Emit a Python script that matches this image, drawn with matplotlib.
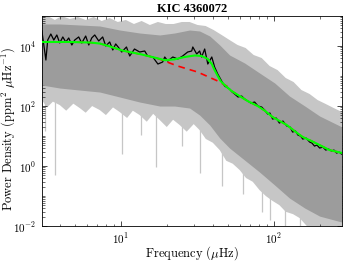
import matplotlib
matplotlib.use("Agg")
import matplotlib.pyplot as plt
from matplotlib.ticker import LogLocator, NullFormatter, FixedLocator, FixedFormatter

plt.rcParams["font.family"] = "serif"
plt.rcParams["font.serif"] = ["cmr10"]
plt.rcParams["mathtext.fontset"] = "cm"
plt.rcParams["axes.formatter.use_mathtext"] = True

# 원시 스펙트럼 (회색) 외곽 / 밀집 구간 경계
env_freq = [3.05, 3.33, 3.71, 4.11, 4.64, 5.24, 5.90, 6.66, 7.51, 8.47, 9.56, 10.8,
            12.2, 13.7, 15.5, 17.5, 19.7, 22.2, 25.1, 28.2, 31.8, 35.9, 40.5, 45.7,
            51.5, 58.1, 65.6, 74.0, 83.5, 94.2, 106, 120, 135, 152, 172, 194, 219,
            247, 280]
env_upper = [92600, 100000, 73600, 100000, 79400, 92600, 73600, 92600, 68100, 85800,
             63100, 73600, 54100, 68100, 50100, 63100, 54100, 54100, 63100, 63100,
             50100, 46400, 34100, 23300, 15800, 10800, 8580, 5010, 3980, 2150, 1580,
             858, 631, 341, 251, 158, 117, 85.8, 63.1]

low_freq = [3.05, 3.3, 3.6, 3.99, 4.4, 4.9, 5.39, 5.9, 6.5, 7.29, 8.0, 8.9, 9.85, 11.0,
            12.0, 13.3, 14.8, 16.3, 18.0, 20.0, 22.0, 24.3, 27.0, 30.0, 32.8, 36.0,
            40.0, 44.4, 49.0, 54.0, 60.0, 66.0, 73.0, 80.9, 89.0, 98.0, 109, 120, 134,
            148, 165, 180, 200, 280]
env_lower = [158, 90, 140, 108, 70, 120, 85.8, 60, 100, 73.6, 50, 90, 63.1, 40, 70,
             50.1, 30, 55, 34.1, 20, 35, 23.3, 14, 25, 15.8, 8, 6, 3.41, 1.5, 1.2,
             0.736, 0.4, 0.3, 0.158, 0.1, 0.07, 0.050, 0.03, 0.025, 0.0185, 0.01, 0.007,
             0.005, 0.005]

core_freq = [3.05, 3.99, 5.39, 7.29, 9.85, 13.3, 18.0, 22.5, 28.2, 32.8, 38.2, 44.4,
             51.5, 64.6, 80.9, 101.6, 127, 160, 200, 280]
core_upper = [54100, 54100, 50100, 46400, 34100, 27100, 23300, 27100, 34100, 31600,
              21500, 10800, 5010, 2710, 1260, 585, 215, 100, 46.4, 20.0]
core_lower = [501, 398, 341, 293, 200, 136, 100, 100, 85.8, 50.1, 23.3, 8.58, 3.98,
              1.58, 0.631, 0.233, 0.0858, 0.0398, 0.0215, 0.0136]

# 아래로 긴 스파이크
spike_freq = [3.18, 3.71, 10.15, 13.5, 16.9, 25.1, 32.8, 45.7, 62.7, 83.5, 94.2, 118, 148, 185]
spike_low = [14.7, 0.50, 2.51, 10.8, 0.93, 4.64, 0.58, 0.215, 0.117, 0.029, 0.016,
             0.005, 0.005, 0.005]
spike_high = [500, 400, 200, 136, 100, 100, 50, 8, 2, 0.6, 0.3, 0.1, 0.04, 0.02]

# 평활 스펙트럼 (검정)
smooth_freq = [3.05, 3.14, 3.24, 3.33, 3.49, 3.65, 3.82, 3.99, 4.18, 4.37, 4.57, 4.79,
               5.00, 5.31, 5.56, 5.90, 6.18, 6.46, 6.76, 7.18, 7.62, 7.98, 8.47, 8.87,
               9.27, 9.85, 10.15, 10.9, 11.45, 12.3, 13.3, 14.35, 15.0, 16.2, 17.5,
               18.8, 19.4, 20.3, 21.9, 23.6, 25.4, 27.4, 29.1, 29.6, 31.4, 32.8, 33.8,
               35.4, 37.1, 39.4, 41.1, 43.1, 45.7, 47.8, 51.5, 53.5, 55.6, 58.5, 61.8,
               64.6, 67.6, 71.0, 75.1, 79.0, 83.5, 87.3, 91.4, 94.5, 98.4, 104, 109,
               115, 122, 128, 133, 139, 144, 150, 155, 163, 172, 178, 185, 192, 200,
               210, 219, 229, 239, 248, 258, 268, 278]
smooth_power = [31600, 10800, 3410, 15800, 25100, 15800, 23300, 12600, 20000, 13600,
                18500, 10800, 15800, 20000, 12600, 21500, 10800, 18500, 23300, 14700,
                20000, 10000, 13600, 7360, 11700, 7940, 6310, 9260, 4640, 7940, 6310,
                6810, 4640, 4300, 2510, 2930, 4300, 3160, 4300, 3690, 4640, 6310, 6810,
                9260, 5410, 6810, 4300, 7940, 2510, 4300, 2000, 1170, 681, 464, 369,
                293, 251, 200, 215, 171, 147, 126, 136, 100, 92.6, 73.6, 54.1, 58.5,
                36.9, 39.8, 27.1, 31.6, 21.5, 20.0, 13.6, 14.7, 10.8, 10.0, 7.94, 8.58,
                6.31, 5.85, 4.64, 5.01, 3.98, 4.30, 3.41, 3.69, 3.16, 3.41, 2.71, 2.93,
                2.51]

# 전체 모델 (초록)
fit_freq = [3.05, 4.64, 6.27, 7.29, 8.47, 10.3, 13.3, 17.2, 19.4, 22.5, 26.2, 30.5,
            33.8, 37.1, 39.4, 41.1, 43.1, 45.0, 47.8, 53.1, 59.9, 67.6, 78.6, 87.3,
            98.4, 122, 137, 155, 177, 200, 232, 282]
fit_power = [13600, 13600, 13100, 12100, 9700, 7000, 5410, 3950, 3350, 3600, 4300,
             4840, 4640, 3690, 2510, 1580, 1000, 681, 501, 316, 215, 147, 100, 70.8,
             43.0, 23.3, 14.7, 9.26, 6.81, 5.01, 3.41, 2.71]

# 배경 모델 (빨강 점선)
bg_freq = [3.05, 4.64, 6.27, 7.29, 8.47, 10.3, 13.3, 17.2, 19.4, 20.9, 23.6, 31.8,
           43.1, 49.3, 53.1, 59.9, 67.6, 78.6, 87.3, 98.4, 122, 137, 155, 177, 200,
           232, 282]
bg_power = [13600, 13600, 13100, 12100, 9700, 7000, 5410, 3950, 3160, 2710, 2150, 1360,
            681, 464, 316, 215, 147, 100, 70.8, 43.0, 23.3, 14.7, 9.26, 6.81, 5.01,
            3.41, 2.71]

fig = plt.figure(figsize=(3.49, 2.62), dpi=100)
ax = fig.add_axes([0.120, 0.137, 0.860, 0.802])

light = "#c6c6c6"
dense = "#9c9c9c"

# 외곽 밴드: 위 경계 → 아래 경계(역순)로 닫은 다각형
ax.fill(env_freq + low_freq[::-1], env_upper + env_lower[::-1],
        color=light, lw=0, zorder=1)
ax.vlines(spike_freq, spike_low, spike_high, color=light, lw=0.9, zorder=1)
ax.fill_between(core_freq, core_lower, core_upper, color=dense, lw=0, zorder=2)

ax.plot(smooth_freq, smooth_power, color="black", lw=0.9, zorder=3)
ax.plot(bg_freq, bg_power, color="red", lw=1.2, ls=(0, (4, 3)), zorder=4)
ax.plot(fit_freq, fit_power, color="#00ff00", lw=1.5, zorder=5)

ax.set_xscale("log")
ax.set_yscale("log")
ax.set_xlim(3.05, 280)
ax.set_ylim(1e-2, 1e5)

ax.yaxis.set_major_locator(FixedLocator([1e-2, 1e0, 1e2, 1e4]))
ax.yaxis.set_major_formatter(FixedFormatter([r"$10^{-2}$", r"$10^{0}$", r"$10^{2}$", r"$10^{4}$"]))
ax.yaxis.set_minor_locator(LogLocator(base=10, subs=[1, 2, 3, 4, 5, 6, 7, 8, 9], numticks=20))
ax.yaxis.set_minor_formatter(NullFormatter())
ax.xaxis.set_major_locator(FixedLocator([10, 100]))
ax.xaxis.set_major_formatter(FixedFormatter([r"$10^{1}$", r"$10^{2}$"]))
ax.xaxis.set_minor_locator(LogLocator(base=10, subs=[2, 3, 4, 5, 6, 7, 8, 9], numticks=20))
ax.xaxis.set_minor_formatter(NullFormatter())

ax.tick_params(which="both", direction="in", top=True, right=True, labelsize=8, pad=4)
ax.tick_params(which="major", length=3.5, width=0.5)
ax.tick_params(which="minor", length=1.8, width=0.4)
for s in ax.spines.values():
    s.set_linewidth(0.6)

ax.set_xlabel(r"Frequency ($\mu$Hz)", fontsize=9)
ax.set_ylabel(r"Power Density (ppm$^2$ $\mu$Hz$^{-1}$)", fontsize=9)
ax.xaxis.set_label_coords(0.5, -0.085)
ax.yaxis.set_label_coords(-0.083, 0.46)
ax.set_title("KIC 4360072", fontsize=9, fontweight="bold",
             family="Liberation Serif", pad=3)

fig.savefig("out.png", dpi=100)
